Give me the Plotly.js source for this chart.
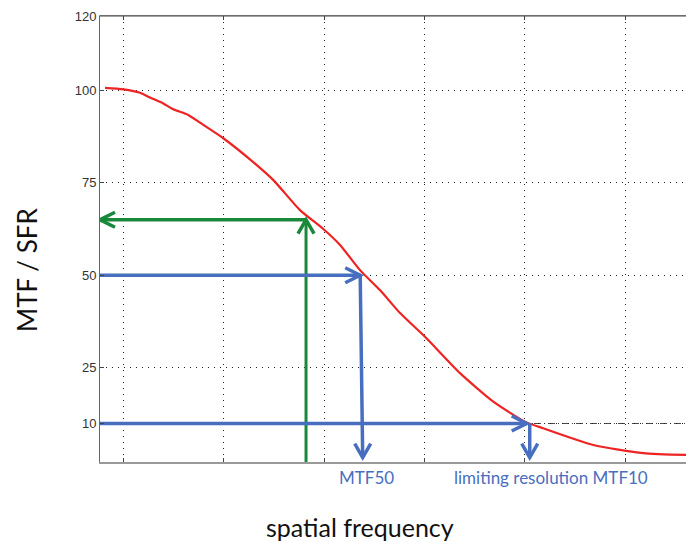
<!DOCTYPE html>
<html>
<head>
<meta charset="utf-8">
<script src="https://cdn.plot.ly/plotly-3.0.1.min.js"></script>
<style>html,body{margin:0;padding:0;background:#fff;}#chart{width:686px;height:542px;}</style>
</head>
<body>
<div id="chart"></div>
<script>
// Measured MTF / SFR curve
const freq = [0.816, 0.998, 1.165, 1.264, 1.397, 1.497, 1.646, 1.796, 1.995, 2.261, 2.494, 2.760, 2.992, 3.159, 3.358, 3.557, 3.757, 4.006, 4.355, 4.687, 5.003, 5.185, 5.684, 6.182, 6.608];
const mtf  = [100.6, 100.2, 99.3, 98.0, 96.4, 94.8, 93.3, 90.6, 87.0, 81.3, 75.7, 67.6, 62.5, 58.2, 51.4, 46.0, 39.8, 33.4, 23.6, 15.9, 10.5, 8.7, 4.2, 2.0, 1.5];

// Reading levels and frequencies
const greenLevel = 65, greenFreq = 2.82;
const mtf50Level = 50, mtf50FreqTop = 3.36, mtf50FreqBottom = 3.385;
const mtf10Level = 10, mtf10FreqTip = 5.02, mtf10FreqBottom = 5.05;
const arrowBottom = 0.8;

const yTicks = [10, 25, 50, 75, 100, 120];
const xGrid = [1, 2, 3, 4, 5, 6];
const xRange = [0.766, 6.608];
const yRange = [-0.4, 120];

const RED = 'rgb(238,36,36)';
const GREEN = 'rgb(24,136,58)';
const BLUE = 'rgb(72,110,192)';

const traces = [
  {x: freq, y: mtf, mode: 'lines', line: {color: RED, width: 2.2, shape: 'spline', smoothing: 0.6}, hoverinfo: 'skip'},
  // green reading
  {x: [greenFreq, greenFreq], y: [yRange[0], greenLevel], mode: 'lines', line: {color: GREEN, width: 3}},
  {x: [greenFreq, xRange[0]], y: [greenLevel, greenLevel], mode: 'lines', line: {color: GREEN, width: 3.5}},
  // MTF50
  {x: [xRange[0], mtf50FreqTop], y: [mtf50Level, mtf50Level], mode: 'lines', line: {color: BLUE, width: 3.5}},
  {x: [mtf50FreqTop, mtf50FreqBottom], y: [mtf50Level, arrowBottom], mode: 'lines', line: {color: BLUE, width: 3.5}},
  // MTF10
  {x: [xRange[0], mtf10FreqTip], y: [mtf10Level, mtf10Level], mode: 'lines', line: {color: BLUE, width: 3.5}},
  {x: [mtf10FreqBottom, mtf10FreqBottom], y: [mtf10Level, arrowBottom], mode: 'lines', line: {color: BLUE, width: 3.5}}
];

function head(xa, ya, path, color) {
  return {type: 'path', xref: 'x', yref: 'y', xsizemode: 'pixel', ysizemode: 'pixel',
          xanchor: xa, yanchor: ya, path: path, line: {color: color, width: 3.5}, layer: 'above'};
}
const LEFT = 'M15,7.5 L0,0 L15,-7.5';
const RIGHT = 'M-15,7.5 L0,0 L-15,-7.5';
const UP = 'M-8,-14 L0,0 L8,-14';
const DOWN = 'M-8,14 L0,0 L8,14';

const shapes = [
  {type: 'line', xref: 'x', yref: 'y', x0: xRange[0], x1: xRange[1], y0: mtf10Level, y1: mtf10Level,
   line: {color: '#444', width: 1, dash: '7px,3px,1px,3px'}, layer: 'below'},
  head(xRange[0], greenLevel, LEFT, GREEN),
  head(greenFreq, greenLevel, UP, GREEN),
  head(mtf50FreqTop, mtf50Level, RIGHT, BLUE),
  head(mtf50FreqBottom, arrowBottom, DOWN, BLUE),
  head(mtf10FreqTip, mtf10Level, RIGHT, BLUE),
  head(mtf10FreqBottom, arrowBottom, DOWN, BLUE),
  {type: 'line', xref: 'paper', yref: 'paper', x0: 0, x1: 1, y0: 1, y1: 1, line: {color: '#444', width: 1.2}}
];

const titleFont = {family: 'Lato, sans-serif', size: 25, color: '#111'};

const layout = {
  width: 686, height: 542,
  margin: {l: 100, r: 0, t: 16, b: 80},
  paper_bgcolor: '#fff', plot_bgcolor: '#fff',
  showlegend: false,
  font: {family: 'Liberation Sans, Arial, sans-serif', color: '#222', size: 12},
  xaxis: {
    range: xRange, tickvals: xGrid, showticklabels: false,
    ticks: 'inside', ticklen: 4, tickcolor: '#444', mirror: 'allticks',
    showline: true, linecolor: '#999', linewidth: 1.5,
    showgrid: true, gridcolor: '#222', griddash: '1px,5px', gridwidth: 1,
    zeroline: false,
    title: {text: ''}
  },
  yaxis: {
    range: yRange, tickvals: yTicks, ticktext: yTicks.map(String),
    ticks: 'inside', ticklen: 4, tickcolor: '#444',
    showline: true, linecolor: '#666', linewidth: 1,
    showgrid: true, gridcolor: '#222', griddash: '1px,5px', gridwidth: 1,
    zeroline: false,
    tickfont: {family: 'Liberation Sans, Arial, sans-serif', size: 13, color: '#333'},
    title: {text: ''}
  },
  shapes: shapes,
  annotations: [
    {text: 'spatial frequency', xref: 'paper', yref: 'paper', x: (360 - 100) / 586, y: (462 - 527) / 446,
     showarrow: false, font: titleFont, xanchor: 'center', yanchor: 'middle'},
    {text: 'MTF / SFR', xref: 'paper', yref: 'paper', x: (27 - 100) / 586, y: (462 - 270) / 446,
     showarrow: false, font: {family: 'Lato, sans-serif', size: 26, color: '#111'}, textangle: -90, xanchor: 'center', yanchor: 'middle'},
    {text: 'MTF50', xref: 'x', yref: 'paper', x: 3.42, y: -0.034, showarrow: false,
     font: {family: 'Lato, sans-serif', size: 17, color: BLUE}, xanchor: 'center', yanchor: 'middle'},
    {text: 'limiting resolution MTF10', xref: 'x', yref: 'paper', x: 5.26, y: -0.034, showarrow: false,
     font: {family: 'Lato, sans-serif', size: 17, color: BLUE}, xanchor: 'center', yanchor: 'middle'}
  ]
};

Plotly.newPlot('chart', traces, layout, {displayModeBar: false, staticPlot: true});
</script>
</body>
</html>
